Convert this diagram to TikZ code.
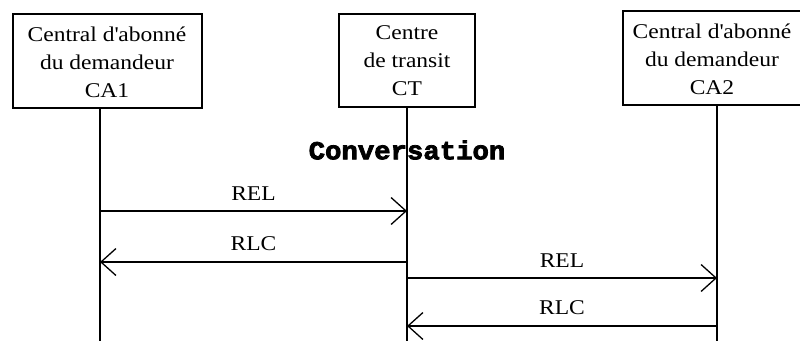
\documentclass[tikz,border=0pt]{standalone}
\usepackage{fontspec}
\setmainfont[FakeStretch=1.12]{Liberation Serif}
\newfontfamily\convfont[BoldFont={Liberation Mono Bold},BoldFeatures={FakeBold=3},FakeStretch=1.05]{Liberation Mono}
\usetikzlibrary{arrows.meta}
\begin{document}
\begin{tikzpicture}[x=1pt,y=-1pt,
  boxline/.style={line width=1.3pt},
  entity/.style={align=center,font=\fontsize{21}{28}\selectfont},
  lifeline/.style={line width=1.3pt},
  msg/.style={line width=1.3pt,-{Straight Barb[length=15pt,width=27pt,line width=1.3pt]}},
  msglabel/.style={font=\fontsize{21}{24}\selectfont,above=7pt}]
\useasboundingbox (0,0) rectangle (800,340);
\clip (0,0) rectangle (800,340);
% entity boxes
\draw[boxline] (13,14) rectangle (202,108);
\draw[boxline] (339,14) rectangle (475,107);
\draw[boxline] (623,11) rectangle (810,105);
\node[entity] (ca1) at (107,62) {Central d\textquotesingle abonné\\du demandeur\\CA1};
\node[entity] (ct) at (407,61) {Centre\\de transit\\CT};
\node[entity] (ca2) at (712,59) {Central d\textquotesingle abonné\\du demandeur\\CA2};
% lifelines
\coordinate (l1t) at (100,108); \coordinate (l1b) at (100,345);
\coordinate (l2t) at (407,107); \coordinate (l2b) at (407,345);
\coordinate (l3t) at (717,105); \coordinate (l3b) at (717,345);
\draw[lifeline] (l1t) -- (l1b);
\draw[lifeline] (l2t) -- (l2b);
\draw[lifeline] (l3t) -- (l3b);
% title
\node[font=\convfont\bfseries\fontsize{26}{30}\selectfont] (conv) at (407,150) {Conversation};
% messages
\coordinate (a1) at (100,211); \coordinate (b1) at (407,211);
\coordinate (a2) at (407,262); \coordinate (b2) at (100,262);
\coordinate (a3) at (407,278); \coordinate (b3) at (717,278);
\coordinate (a4) at (717,326); \coordinate (b4) at (407,326);
\draw[msg] (a1) -- node[msglabel] {REL} (b1);
\draw[msg] (a2) -- node[msglabel] {RLC} (b2);
\draw[msg] (a3) -- node[msglabel] {REL} (b3);
\draw[msg] (a4) -- node[msglabel] {RLC} (b4);
\end{tikzpicture}
\end{document}
